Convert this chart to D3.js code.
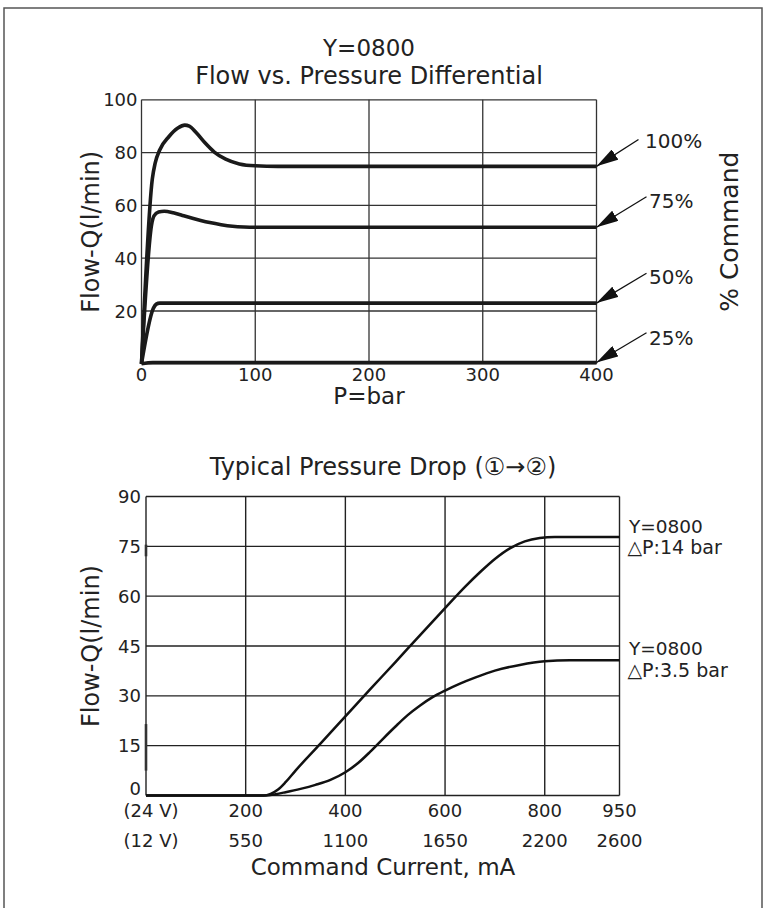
<!DOCTYPE html>
<html><head><meta charset="utf-8">
<script src="https://cdn.jsdelivr.net/npm/d3@7"></script>
<style>
html,body{margin:0;padding:0;background:#fff;}
svg{display:block;}
text{font-family:"DejaVu Sans","Noto Sans CJK JP",sans-serif;fill:#222;}
</style></head>
<body>
<svg id="c" width="766" height="908"></svg>
<script>
// ---------- Top chart data ----------
const topXTicks = [0, 100, 200, 300, 400];
const topYTicks = [20, 40, 60, 80, 100];
const cmd100 = [[0,0],[9.5,70],[12,76],[16,81],[24,86],[32,89.3],[38,90.4],[42,90],[48,87.6],[56,83.6],[64,80.2],[74,77.5],[86,75.7],[100,75],[120,74.8],[400,74.8]];
const cmd75  = [[0,0],[9,53],[11,56],[15,57.5],[20,57.8],[28,57.2],[36,56.2],[44,55.2],[52,54.3],[60,53.5],[70,52.7],[80,52.1],[90,51.8],[100,51.7],[400,51.7]];
const cmd50  = [[0,0],[10.4,21],[13,22.6],[16,23],[400,23]];
const cmd25  = [[0,0],[10,0.5],[400,0.5]];
const cmdLabels = ["100%", "75%", "50%", "25%"];

// ---------- Bottom chart data ----------
const botXTicks = [200, 400, 600, 800, 950];
const botX12V   = ["550", "1100", "1650", "2200", "2600"];
const botYTicks = [0, 15, 30, 45, 60, 75, 90];
const dp14 = [[0,0],[236,0],[250,0.5],[265,1.8],[280,4],[300,7.5],[350,15.6],[400,23.8],[450,32],[500,40.1],[550,48.3],[600,56.4],[640,62.8],[670,67.2],[700,71.2],[730,74.4],[760,76.5],[790,77.5],[820,77.8],[950,77.8]];
const dp35 = [[0,0],[240,0],[260,0.4],[280,1],[310,2],[340,3.2],[370,4.7],[400,7],[425,9.7],[450,13.2],[475,17],[500,20.7],[525,24.2],[550,27.1],[575,29.6],[600,31.6],[630,33.7],[660,35.5],[700,37.6],[750,39.3],[800,40.4],[850,40.7],[950,40.7]];

const svg = d3.select("#c");

// outer frame
svg.append("path").attr("d","M4,912 L4,8 L762,8 L762,912")
  .attr("fill","none").attr("stroke","#555").attr("stroke-width",1.5);

// ===== TOP CHART =====
const xT = d3.scaleLinear().domain([0,400]).range([141.5,596.5]);
const yT = d3.scaleLinear().domain([0,100]).range([363.8,99.8]);
const gT = svg.append("g");

gT.selectAll(".vg").data(topXTicks).join("line")
  .attr("x1",d=>xT(d)).attr("x2",d=>xT(d)).attr("y1",yT(0)).attr("y2",yT(100))
  .attr("stroke","#333").attr("stroke-width",1.3);
gT.selectAll(".hg").data([0].concat(topYTicks)).join("line")
  .attr("x1",xT(0)).attr("x2",xT(400)).attr("y1",d=>yT(d)).attr("y2",d=>yT(d))
  .attr("stroke","#333").attr("stroke-width",1.3);

gT.selectAll(".xl").data(topXTicks).join("text")
  .attr("x",d=>xT(d)).attr("y",381).attr("text-anchor","middle")
  .attr("font-size",18).text(d=>d);
gT.selectAll(".yl").data(topYTicks).join("text")
  .attr("x",xT(0)-4).attr("y",d=>yT(d)+6.5).attr("text-anchor","end")
  .attr("font-size",18).text(d=>d);

const lineT = d3.line().x(d=>xT(d[0])).y(d=>yT(d[1])).curve(d3.curveMonotoneX);
[cmd100,cmd75,cmd50,cmd25].forEach(s=>{
  gT.append("path").attr("d",lineT(s)).attr("fill","none")
    .attr("stroke","#1a1a1a").attr("stroke-width",3.6).attr("stroke-linejoin","round");
});

const defs = svg.append("defs");
defs.append("marker").attr("id","ah").attr("markerUnits","userSpaceOnUse")
  .attr("viewBox","0 0 22 12").attr("refX",22).attr("refY",6)
  .attr("markerWidth",22).attr("markerHeight",12).attr("orient","auto")
  .append("path").attr("d","M0,0 L22,6 L0,12 Z").attr("fill","#111");
const ends = [cmd100,cmd75,cmd50,cmd25].map(s=>s[s.length-1][1]);
const labBase = [148.3, 208.3, 284, 345];
const startPts = [[638.5,139.5],[646.5,196.7],[646.5,273.3],[646.5,332.7]];
ends.forEach((v,i)=>{
  gT.append("line").attr("x1",startPts[i][0]).attr("y1",startPts[i][1])
    .attr("x2",xT(400)).attr("y2",yT(v))
    .attr("stroke","#111").attr("stroke-width",1.3).attr("marker-end","url(#ah)");
  gT.append("text").attr("x",i===0?645:649).attr("y",labBase[i])
    .attr("font-size",20).text(cmdLabels[i]);
});

gT.append("text").attr("x",369).attr("y",56).attr("text-anchor","middle").attr("font-size",23).text("Y=0800");
gT.append("text").attr("x",369).attr("y",84).attr("text-anchor","middle").attr("font-size",24).text("Flow vs. Pressure Differential");
gT.append("text").attr("x",369).attr("y",404).attr("text-anchor","middle").attr("font-size",23).text("P=bar");
gT.append("text").attr("transform","translate(99,231.8) rotate(-90)").attr("text-anchor","middle").attr("font-size",24).text("Flow-Q(l/min)");
gT.append("text").attr("transform","translate(738,231.7) rotate(-90)").attr("text-anchor","middle").attr("font-size",25).text("% Command");

// ===== BOTTOM CHART =====
const xB = d3.scaleLinear().domain([0,950]).range([146,619.5]);
const yB = d3.scaleLinear().domain([0,90]).range([795.5,496.5]);
const gB = svg.append("g");

gB.selectAll(".vg").data([0].concat(botXTicks)).join("line")
  .attr("x1",d=>xB(d)).attr("x2",d=>xB(d)).attr("y1",yB(0)).attr("y2",yB(90))
  .attr("stroke","#222").attr("stroke-width",1.4);
gB.selectAll(".hg").data(botYTicks).join("line")
  .attr("x1",xB(0)).attr("x2",xB(950)).attr("y1",d=>yB(d)).attr("y2",d=>yB(d))
  .attr("stroke","#222").attr("stroke-width",1.4);
// scan thickening on the left axis
[[7.5,21.5],[72,75.5]].forEach(r=>{
  gB.append("line").attr("x1",xB(0)).attr("x2",xB(0)).attr("y1",yB(r[0])).attr("y2",yB(r[1]))
    .attr("stroke","#333").attr("stroke-width",2.6);
});

gB.selectAll(".yl").data(botYTicks).join("text")
  .attr("x",xB(0)-5).attr("y",d=>d===0?yB(d)-1:yB(d)+6.5).attr("text-anchor","end")
  .attr("font-size",18).text(d=>d);
gB.selectAll(".xl").data(botXTicks).join("text")
  .attr("x",d=>xB(d)).attr("y",817).attr("text-anchor","middle")
  .attr("font-size",18).text(d=>d);
gB.selectAll(".xl2").data(botXTicks).join("text")
  .attr("x",d=>xB(d)).attr("y",847).attr("text-anchor","middle")
  .attr("font-size",18).text((d,i)=>botX12V[i]);
gB.append("text").attr("x",151).attr("y",817).attr("text-anchor","middle").attr("font-size",18).text("(24 V)");
gB.append("text").attr("x",151).attr("y",847).attr("text-anchor","middle").attr("font-size",18).text("(12 V)");

const lineB = d3.line().x(d=>xB(d[0])).y(d=>yB(d[1])).curve(d3.curveMonotoneX);
[dp14,dp35].forEach(s=>{
  gB.append("path").attr("d",lineB(s)).attr("fill","none")
    .attr("stroke","#111").attr("stroke-width",2.5).attr("stroke-linejoin","round");
});

gB.append("text").attr("x",383).attr("y",475).attr("text-anchor","middle").attr("font-size",24)
  .text("Typical Pressure Drop (\u2460\u2192\u2461)");
gB.append("text").attr("x",383).attr("y",875).attr("text-anchor","middle").attr("font-size",23)
  .text("Command Current, mA");
gB.append("text").attr("transform","translate(99,646) rotate(-90)").attr("text-anchor","middle").attr("font-size",24).text("Flow-Q(l/min)");

const seriesLabels = [["Y=0800","\u25B3P:14 bar",532.7,554],["Y=0800","\u25B3P:3.5 bar",655,676.7]];
seriesLabels.forEach(l=>{
  gB.append("text").attr("x",629).attr("y",l[2]).attr("font-size",18.5).text(l[0]);
  gB.append("text").attr("x",627.5).attr("y",l[3]).attr("font-size",19).text(l[1]);
});
</script>
</body></html>
